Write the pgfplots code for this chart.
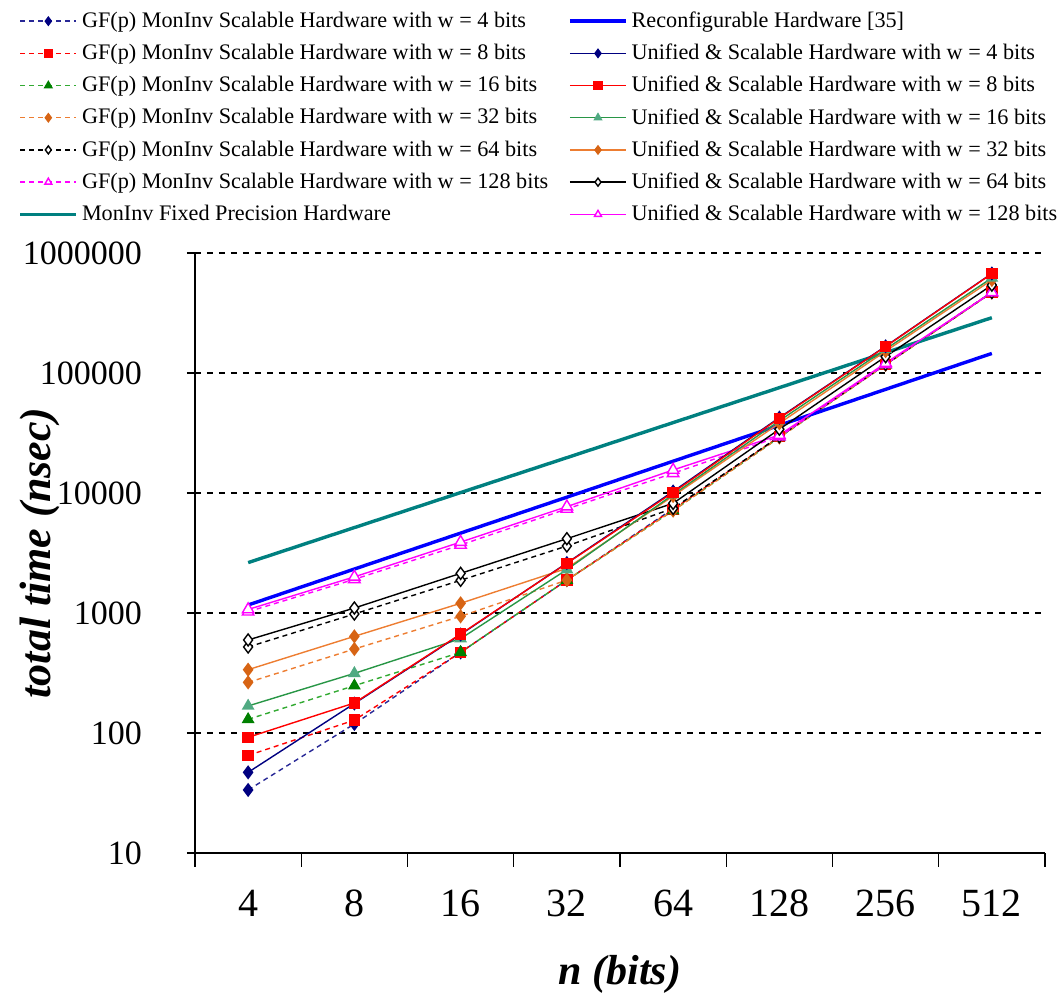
\documentclass[border=0pt]{standalone}
\usepackage{pgfplots}
\pgfplotsset{compat=1.18}
\usepackage{fontspec}
\setmainfont{Liberation Serif}
\definecolor{cnavy}{RGB}{0,0,128}
\definecolor{cnavyl}{RGB}{40,40,150}
\definecolor{cgreen}{RGB}{0,128,0}
\definecolor{cgreenl}{RGB}{50,170,50}
\definecolor{cgreenu}{RGB}{40,150,70}
\definecolor{cgreenum}{RGB}{80,170,130}
\definecolor{corange}{RGB}{237,125,49}
\definecolor{corangem}{RGB}{215,100,20}
\definecolor{cmag}{RGB}{255,0,255}
\definecolor{cteal}{RGB}{0,128,128}
\definecolor{cblue}{RGB}{0,0,255}
\pgfplotsset{
 dsh/.style={line width=0.7bp, dash pattern=on 2.5bp off 2bp},
 sol/.style={line width=0.7bp, solid},
 s1/.style={dsh, draw=cnavyl, mark=diamond*, mark size=3bp, mark options={solid, draw=cnavy, fill=cnavy}},
 s2/.style={dsh, draw=red, mark=square*, mark size=2.5bp, mark options={solid, draw=red, fill=red}},
 s3/.style={dsh, draw=cgreenl, mark=triangle*, mark size=3bp, mark options={solid, draw=cgreen, fill=cgreen}},
 s4/.style={dsh, draw=corange, mark=diamond*, mark size=3bp, mark options={solid, draw=corangem, fill=corangem}},
 s5/.style={dsh, draw=black, mark=diamond*, mark size=3bp, mark options={solid, draw=black, fill=white}},
 s6/.style={dsh, draw=cmag, mark=triangle*, mark size=3.3bp, mark options={solid, draw=cmag, fill=white}},
 u1/.style={sol, draw=cnavy, mark=diamond*, mark size=3bp, mark options={solid, draw=cnavy, fill=cnavy}},
 u2/.style={sol, draw=red, mark=square*, mark size=2.5bp, mark options={solid, draw=red, fill=red}},
 u3/.style={sol, draw=cgreenu, mark=triangle*, mark size=3bp, mark options={solid, draw=cgreenum, fill=cgreenum}},
 u4/.style={sol, draw=corange, mark=diamond*, mark size=3bp, mark options={solid, draw=corangem, fill=corangem}},
 u5/.style={sol, draw=black, mark=diamond*, mark size=3bp, mark options={solid, draw=black, fill=white}},
 u6/.style={sol, draw=cmag, mark=triangle*, mark size=3.3bp, mark options={solid, draw=cmag, fill=white}},
 fx/.style={line width=1.7bp, solid, draw=cteal, no markers},
 rc/.style={line width=1.7bp, solid, draw=cblue, no markers},
}
\begin{document}
\begin{tikzpicture}
\useasboundingbox (-97.5bp,-70bp) rectangle (434.5bp,426.5bp);
\begin{axis}[
 at={(0,0)}, anchor=south west,
 scale only axis, width=425bp, height=300bp,
 xmin=-0.5, xmax=7.5,
 ymode=log, ymin=10, ymax=1000000,
 ytick={10,100,1000,10000,100000,1000000},
 yticklabels={10,100,1000,10000,100000,1000000},
 yminorticks=false,
 xtick={-0.5,0.5,1.5,2.5,3.5,4.5,5.5,6.5,7.5},
 xticklabels={4,8,16,32,64,128,256,512},
 x tick label as interval,
 axis x line*=bottom, axis y line*=left,
 axis line style={black, line width=0.7bp},
 tick align=outside, major tick length=7bp,
 tick style={black, line width=0.7bp},
 ytick style={xshift=3bp},
 ymajorgrids, major grid style={black, line width=0.6bp, dash pattern=on 3bp off 3bp},
 xticklabel style={font=\fontsize{20bp}{24bp}\selectfont, yshift=-8bp},
 yticklabel style={font=\fontsize{17bp}{20bp}\selectfont, xshift=-16bp},
 xlabel={\bfseries\itshape n (bits)},
 ylabel={\bfseries\itshape total time (nsec)},
 xlabel style={font=\fontsize{21bp}{25bp}\selectfont, at={(axis description cs:0.5,0)}, anchor=center, yshift=-60.5bp},
 ylabel style={font=\fontsize{22bp}{26bp}\selectfont, at={(axis description cs:0,0.5)}, anchor=center, yshift=77.5bp},
 legend columns=2,
 legend style={at={(axis description cs:-0.215,1.035)}, anchor=south west, draw=none, fill=none,
   font=\fontsize{11.1bp}{13bp}\selectfont, row sep=2.8bp,
   /tikz/every even column/.append style={column sep=8bp}},
 legend cell align=left,
 legend image code/.code={\draw[mark repeat=2,mark phase=2,#1,mark size=2bp] plot coordinates {(0bp,0bp)(14bp,0bp)(28bp,0bp)};},
]
% GF(p) MonInv Scalable (dashed)
\addplot[s1, forget plot] coordinates {(0,33.5)(1,119)(2,470)(3,1880)(4,7400)(5,29500)(6,118000)(7,472000)};
\addplot[s2, forget plot] coordinates {(0,65)(1,128)(2,470)(3,1880)(4,7300)(5,29500)(6,118000)(7,472000)};
\addplot[s3, forget plot] coordinates {(0,130)(1,248)(2,470)(3,1880)(4,7130)(5,29000)(6,117000)(7,468000)};
\addplot[s4, forget plot] coordinates {(0,264)(1,501)(2,938)(3,1880)(4,7130)(5,29000)(6,117000)(7,468000)};
\addplot[s5, forget plot] coordinates {(0,521)(1,981)(2,1873)(3,3617)(4,7450)(5,29500)(6,118000)(7,470000)};
\addplot[s6, forget plot] coordinates {(0,1025)(1,1909)(2,3690)(3,7360)(4,14600)(5,29500)(6,118000)(7,470000)};
% Fixed precision and reconfigurable
\addplot[fx, forget plot] coordinates {(0,2630)(1,5150)(2,10080)(3,19700)(4,38600)(5,75500)(6,147800)(7,289000)};
\addplot[rc, forget plot] coordinates {(0,1166)(1,2324)(2,4632)(3,9230)(4,18400)(5,36660)(6,73070)(7,145600)};
% Unified & Scalable (solid)
\addplot[u6, forget plot] coordinates {(0,1070)(1,2000)(2,3900)(3,7700)(4,15560)(5,30400)(6,121000)(7,470000)};
\addplot[u5, forget plot] coordinates {(0,596)(1,1100)(2,2140)(3,4160)(4,8200)(5,34000)(6,137000)(7,540000)};
\addplot[u4, forget plot] coordinates {(0,337)(1,639)(2,1205)(3,2355)(4,9440)(5,38100)(6,152000)(7,596000)};
\addplot[u3, forget plot] coordinates {(0,168)(1,314)(2,611)(3,2300)(4,9700)(5,40000)(6,158000)(7,620000)};
\addplot[u1, forget plot] coordinates {(0,47)(1,176)(2,662)(3,2610)(4,10300)(5,42500)(6,167000)(7,675000)};
\addplot[u2, forget plot] coordinates {(0,92)(1,178)(2,668)(3,2590)(4,10100)(5,42000)(6,166000)(7,672000)};
% Legend (row-wise, two columns)
\addlegendimage{s1}\addlegendentry{GF(p) MonInv Scalable Hardware with w = 4 bits}
\addlegendimage{rc}\addlegendentry{Reconfigurable Hardware [35]}
\addlegendimage{s2}\addlegendentry{GF(p) MonInv Scalable Hardware with w = 8 bits}
\addlegendimage{u1}\addlegendentry{Unified \& Scalable Hardware with w = 4 bits}
\addlegendimage{s3}\addlegendentry{GF(p) MonInv Scalable Hardware with w = 16 bits}
\addlegendimage{u2}\addlegendentry{Unified \& Scalable Hardware with w = 8 bits}
\addlegendimage{s4}\addlegendentry{GF(p) MonInv Scalable Hardware with w = 32 bits}
\addlegendimage{u3}\addlegendentry{Unified \& Scalable Hardware with w = 16 bits}
\addlegendimage{s5}\addlegendentry{GF(p) MonInv Scalable Hardware with w = 64 bits}
\addlegendimage{u4}\addlegendentry{Unified \& Scalable Hardware with w = 32 bits}
\addlegendimage{s6}\addlegendentry{GF(p) MonInv Scalable Hardware with w = 128 bits}
\addlegendimage{u5}\addlegendentry{Unified \& Scalable Hardware with w = 64 bits}
\addlegendimage{fx}\addlegendentry{MonInv Fixed Precision Hardware}
\addlegendimage{u6}\addlegendentry{Unified \& Scalable Hardware with w = 128 bits}
\end{axis}
\end{tikzpicture}
\end{document}
